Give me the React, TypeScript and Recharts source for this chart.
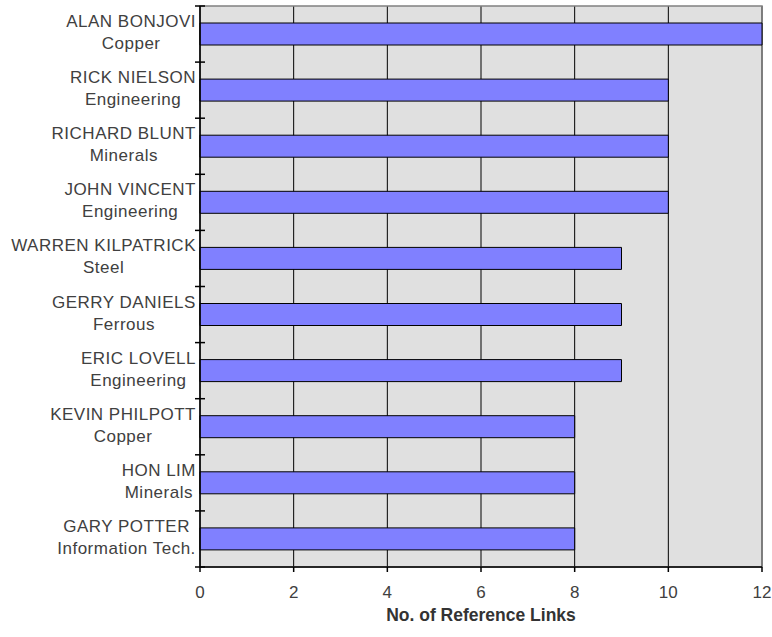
import { Bar, BarChart, CartesianGrid, ReferenceArea, XAxis, YAxis } from "recharts"

const names = [
  "ALAN BONJOVI",
  "RICK NIELSON",
  "RICHARD BLUNT",
  "JOHN VINCENT",
  "WARREN KILPATRICK",
  "GERRY DANIELS",
  "ERIC LOVELL",
  "KEVIN PHILPOTT",
  "HON LIM",
  "GARY POTTER",
]

const departments = [
  "Copper",
  "Engineering",
  "Minerals",
  "Engineering",
  "Steel",
  "Ferrous",
  "Engineering",
  "Copper",
  "Minerals",
  "Information Tech.",
]

const referenceLinks = [12, 10, 10, 10, 9, 9, 9, 8, 8, 8]

const xTicks = [0, 2, 4, 6, 8, 10, 12]

const data = names.map((name, i) => ({ name, dept: departments[i], links: referenceLinks[i] }))

const WIDTH = 772
const HEIGHT = 637
const MARGIN = { top: 6, right: 10, bottom: 0, left: 0 }
const X_AXIS_HEIGHT = 70
const PLOT_HEIGHT = HEIGHT - MARGIN.top - MARGIN.bottom - X_AXIS_HEIGHT

const FONT = '"Liberation Sans", Arial, sans-serif'
const LABEL_SIZE = 17
const SPACING = 0.5

let ctx: CanvasRenderingContext2D | null = null
function textWidth(s: string) {
  if (!ctx) {
    ctx = document.createElement("canvas").getContext("2d")
  }
  if (!ctx) return s.length * LABEL_SIZE * 0.6
  ctx.font = `${LABEL_SIZE}px ${FONT}`
  return ctx.measureText(s).width + s.length * SPACING
}

// two-line category label, with Excel-style tick marks on the band edges
function CategoryTick(props: any) {
  const x = Number(props.x)
  const y = Number(props.y)
  const i = props.payload?.index ?? props.index
  const half = PLOT_HEIGHT / names.length / 2
  const name = names[i]
  const dept = departments[i]
  const w = Math.max(textWidth(name), textWidth(dept))
  const cx = x - w / 2
  const style = { fontFamily: FONT, fontSize: LABEL_SIZE, fill: "#404040", letterSpacing: SPACING }
  const top = y - half
  const bottom = y + half
  return (
    <g>
      <path d={`M${x - 1},${top}H${x + 9}`} stroke="#000" strokeWidth={1.5} fill="none" />
      {i === names.length - 1 && (
        <path d={`M${x - 1},${bottom}H${x + 9}`} stroke="#000" strokeWidth={1.5} fill="none" />
      )}
      <text x={cx} y={y - 7} textAnchor="middle" style={style}>
        {name}
      </text>
      <text x={cx} y={y + 15} textAnchor="middle" style={style}>
        {dept}
      </text>
    </g>
  )
}

export default function App() {
  return (
    <div style={{ position: "absolute", left: 0, top: 0, fontFamily: FONT }}>
      <BarChart width={WIDTH} height={HEIGHT} data={data} layout="vertical" margin={MARGIN}>
        <CartesianGrid horizontal={false} fill="#e0e0e0" stroke="#000" strokeWidth={1} />
        <ReferenceArea x1={0} x2={12} fill="none" fillOpacity={0} stroke="#808080" strokeWidth={1.5} />
        <XAxis
          type="number"
          domain={[0, 12]}
          ticks={xTicks}
          height={X_AXIS_HEIGHT}
          tickSize={5}
          tickMargin={14}
          axisLine={{ stroke: "#000", strokeWidth: 1.5 }}
          tickLine={{ stroke: "#000", strokeWidth: 1.5 }}
          tick={{ fontSize: 17, fill: "#404040", fontFamily: FONT }}
          label={{
            value: "No. of Reference Links",
            position: "insideBottom",
            offset: 16,
            style: { fontSize: 17.5, fontWeight: "bold", fill: "#333", fontFamily: FONT },
          }}
        />
        <YAxis
          type="category"
          dataKey="name"
          width={200}
          tickSize={4}
          tickMargin={0}
          tickLine={false}
          interval={0}
          axisLine={{ stroke: "#000", strokeWidth: 1.5 }}
          tick={(p: any) => <CategoryTick {...p} />}
        />
        <Bar
          dataKey="links"
          fill="#8080ff"
          stroke="#000"
          strokeWidth={1}
          barSize={22}
          isAnimationActive={false}
        />
      </BarChart>
    </div>
  )
}
